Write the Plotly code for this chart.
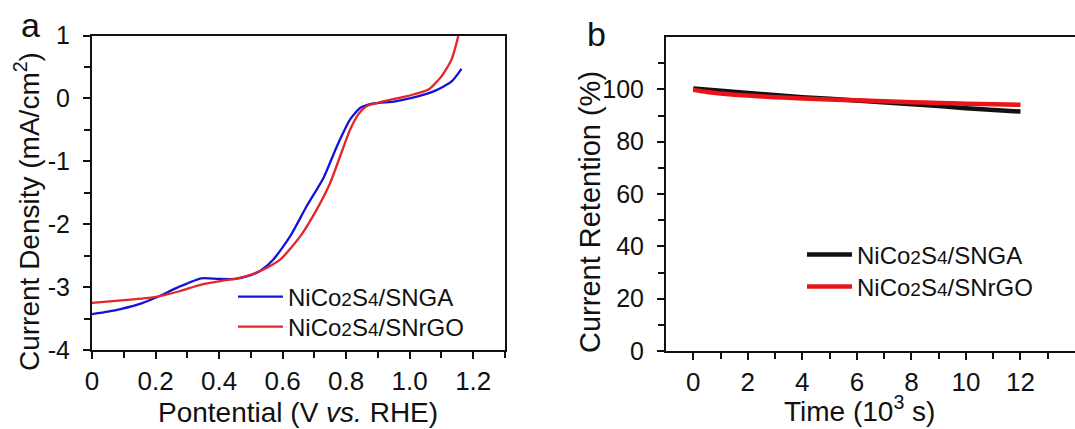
import plotly.graph_objects as go

# ---------- Panel a: LSV curves ----------
snga_x = [0, 0.05, 0.09, 0.156, 0.209, 0.272, 0.344, 0.398, 0.449, 0.50, 0.53, 0.571,
          0.624, 0.676, 0.729, 0.771, 0.813, 0.845, 0.886, 0.95, 1.0, 1.079, 1.132, 1.163]
snga_y = [-3.43, -3.39, -3.35, -3.26, -3.15, -3.00, -2.86, -2.87, -2.87, -2.81, -2.74, -2.56,
          -2.19, -1.71, -1.26, -0.76, -0.33, -0.15, -0.08, -0.05, 0.0, 0.12, 0.27, 0.47]
snrgo_x = [0, 0.093, 0.197, 0.272, 0.344, 0.408, 0.460, 0.512, 0.555, 0.593, 0.656, 0.708,
           0.750, 0.781, 0.813, 0.839, 0.865, 0.907, 0.995, 1.059, 1.10, 1.132, 1.153]
snrgo_y = [-3.25, -3.21, -3.16, -3.07, -2.96, -2.90, -2.86, -2.78, -2.68, -2.56, -2.19, -1.76,
           -1.34, -0.92, -0.49, -0.25, -0.12, -0.06, 0.04, 0.14, 0.35, 0.62, 0.99]

a_xticks = [0, 0.2, 0.4, 0.6, 0.8, 1.0, 1.2]
a_xticktext = ["0", "0.2", "0.4", "0.6", "0.8", "1.0", "1.2"]
a_xminor = [0.1, 0.3, 0.5, 0.7, 0.9, 1.1, 1.3]
a_yticks = [1, 0, -1, -2, -3, -4]
a_yticktext = ["1", "0", "-1", "-2", "-3", "-4"]
a_yminor = [0.5, -0.5, -1.5, -2.5, -3.5]

# ---------- Panel b: stability ----------
b_snga_t = [0, 1, 2, 3, 4, 5, 6, 7, 8, 9, 10, 11, 12]
b_snga_r = [100.3, 99.4, 98.5, 97.6, 97.0, 96.4, 95.8, 95.1, 94.4, 93.6, 92.8, 92.2, 91.5]
b_snrgo_t = [0, 0.5, 1, 2, 3, 4, 5, 6, 7, 8, 9, 10, 11, 12]
b_snrgo_r = [99.8, 99.0, 98.4, 97.6, 97.0, 96.5, 96.1, 95.8, 95.4, 95.1, 94.8, 94.5, 94.3, 94.1]

b_xticks = [0, 2, 4, 6, 8, 10, 12]
b_xminor = [1, 3, 5, 7, 9, 11, 13]
b_yticks = [0, 20, 40, 60, 80, 100]
b_yminor = [10, 30, 50, 70, 90, 110]

SUB = '<span style="font-size:19px">{}</span>'
name1 = "NiCo" + SUB.format("2") + "S" + SUB.format("4") + "/SNGA"
name2 = "NiCo" + SUB.format("2") + "S" + SUB.format("4") + "/SNrGO"

FONT = "Liberation Sans, Arial, sans-serif"
W, H = 1075, 429
INK = "#111111"

fig = go.Figure()
fig.add_trace(go.Scatter(x=snga_x, y=snga_y, mode="lines", name=name1,
                         line=dict(color="#1212d8", width=2.3, shape="spline", smoothing=0.6),
                         xaxis="x", yaxis="y", legend="legend"))
fig.add_trace(go.Scatter(x=snrgo_x, y=snrgo_y, mode="lines", name=name2,
                         line=dict(color="#e2262a", width=2.3, shape="spline", smoothing=0.6),
                         xaxis="x", yaxis="y", legend="legend2"))
fig.add_trace(go.Scatter(x=b_snga_t, y=b_snga_r, mode="lines", name=name1,
                         line=dict(color=INK, width=4.5),
                         xaxis="x2", yaxis="y2", legend="legend3"))
fig.add_trace(go.Scatter(x=b_snrgo_t, y=b_snrgo_r, mode="lines", name=name2,
                         line=dict(color="#e8141a", width=4.5, shape="spline", smoothing=0.6),
                         xaxis="x2", yaxis="y2", legend="legend4"))

xtickfont = dict(family=FONT, size=26, color=INK)
ytickfont = dict(family=FONT, size=25, color=INK)
minor_x = dict(ticks="outside", ticklen=6, tickwidth=1.6, tickcolor=INK)
axcommon = dict(showline=True, linecolor=INK, linewidth=2, ticks="outside",
                ticklen=7, tickwidth=1.6, tickcolor=INK, showgrid=False,
                zeroline=False, automargin=False)

legfont = dict(family=FONT, size=24, color=INK)
def leg(x_px, y_px):
    return dict(x=x_px/W, y=1-y_px/H, xanchor="left", yanchor="middle",
                bgcolor="rgba(0,0,0,0)", font=legfont, itemwidth=45)

fig.update_layout(
    width=W, height=H, margin=dict(l=0, r=0, t=0, b=0),
    paper_bgcolor="white", plot_bgcolor="white",
    font=dict(family=FONT, color=INK),
    xaxis=dict(domain=[92/W, 505/W], range=[0, 1.3], anchor="y", mirror=True,
               tickmode="array", tickvals=a_xticks, ticktext=a_xticktext,
               minor=dict(tickvals=a_xminor, **minor_x), tickfont=xtickfont,
               ticklabelstandoff=0, **axcommon),
    yaxis=dict(domain=[1-350/H, 1-35.5/H], range=[-4, 1], anchor="x", mirror=True,
               tickmode="array", tickvals=a_yticks, ticktext=a_yticktext,
               minor=dict(tickvals=a_yminor, **minor_x), tickfont=ytickfont,
               ticklabelstandoff=8, **axcommon),
    xaxis2=dict(domain=[666/W, 1.0], range=[-1, 14], anchor="y2", mirror=True,
                tickmode="array", tickvals=b_xticks,
                minor=dict(tickvals=b_xminor, **minor_x), tickfont=xtickfont,
                ticklabelstandoff=0, **axcommon),
    yaxis2=dict(domain=[1-351/H, 1-37/H], range=[0, 120], anchor="x2", mirror=False,
                tickmode="array", tickvals=b_yticks,
                minor=dict(tickvals=b_yminor, **minor_x), tickfont=ytickfont,
                ticklabelstandoff=8, **axcommon),
    legend=leg(233, 297),
    legend2=leg(233, 327),
    legend3=leg(802, 255),
    legend4=leg(802, 287),
    showlegend=True,
)

titlefont = dict(family=FONT, size=28, color=INK)
# axis titles
fig.add_annotation(text="Pontential (V <i>vs.</i> RHE)", x=298/W, y=1-412/H, xref="paper", yref="paper",
                   xanchor="center", yanchor="middle", showarrow=False, font=titlefont)
fig.add_annotation(text="Current Density (mA/cm<sup>2</sup>)", x=27/W, y=1-212/H, xref="paper", yref="paper",
                   xanchor="center", yanchor="middle", showarrow=False, textangle=-90, font=titlefont)
fig.add_annotation(text="Time (10<sup>3</sup> s)", x=859/W, y=1-409/H, xref="paper", yref="paper",
                   xanchor="center", yanchor="middle", showarrow=False, font=titlefont)
fig.add_annotation(text="Current Retention (%)", x=590/W, y=1-212/H, xref="paper", yref="paper",
                   xanchor="center", yanchor="middle", showarrow=False, textangle=-90,
                   font=dict(family=FONT, size=29, color=INK))
# panel labels
fig.add_annotation(text="a", x=30/W, y=1-25/H, xref="paper", yref="paper",
                   xanchor="center", yanchor="middle", showarrow=False,
                   font=dict(family=FONT, size=34, color=INK))
fig.add_annotation(text="b", x=596/W, y=1-34/H, xref="paper", yref="paper",
                   xanchor="center", yanchor="middle", showarrow=False,
                   font=dict(family=FONT, size=34, color=INK))

fig.write_html("out.html")
